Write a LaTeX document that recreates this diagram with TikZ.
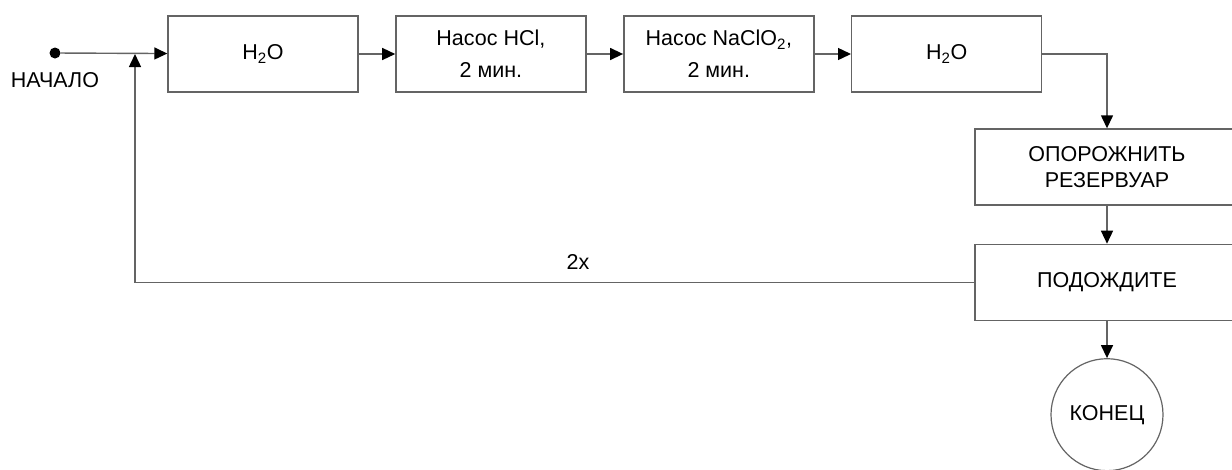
\documentclass[tikz,border=0pt]{standalone}
\usepackage{fontspec}
\setmainfont{Liberation Sans}
\usepackage{tikz}
\usetikzlibrary{positioning}
\usetikzlibrary{arrows.meta}
\definecolor{linegray}{RGB}{100,100,100}

\begin{document}
\begin{tikzpicture}[
x = 1pt, y = -1pt,
node distance = 36.5pt,
every node/.style = {font = \fontsize{21.5}{26}\selectfont},
  stepbox/.style = {draw = linegray, line width = 1.4pt, minimum width = 190pt,
    minimum height = 76pt, align = center, inner sep = 0pt},
  widebox/.style = {stepbox, minimum width = 264pt},
  dot/.style = {circle, fill = black, minimum size = 11pt, inner sep = 0pt},
  endnode/.style = {circle, draw = linegray, line width = 1.2pt, minimum size = 112pt},
  flow/.style = {draw = linegray, line width = 1.4pt, -{Triangle[length = 13pt, width = 12pt, black]}}
]
\clip (0,0) rectangle (1232,469);
\node[dot] (start) at (55,53) {};
\node (startlbl) at (55,80) {НАЧАЛО};
\coordinate (join) at (135,53);

\node[stepbox] (rinse1) at (263,54) {H\textsubscript{2}O};
\node[stepbox, right = of rinse1] (pumphcl) {Насос HCl,\\[6pt] 2 мин.};
\node[stepbox, right = of pumphcl] (pumpclo) {Насос NaClO\textsubscript{2},\\[6pt] 2 мин.};
\node[stepbox, right = of pumpclo] (rinse2) {H\textsubscript{2}O};

\node[widebox] (drain) at (1107,167) {ОПОРОЖНИТЬ\\ РЕЗЕРВУАР};
\node[widebox, below = 38pt of drain] (wait) {ПОДОЖДИТЕ};
\node[endnode, below = 37pt of wait] (finish) {КОНЕЦ};

\node (repeatlbl) at (578,262) {2x};

\draw[flow] (start) -- (rinse1);
\draw[flow] (rinse1) -- (pumphcl);
\draw[flow] (pumphcl) -- (pumpclo);
\draw[flow] (pumpclo) -- (rinse2);
\draw[flow] (rinse2.east) -| (drain.north);
\draw[flow] (drain) -- (wait);
\draw[flow] (wait) -- (finish);
\draw[flow, shorten > = 1pt] (wait.west) -| (join);
\end{tikzpicture}
\end{document}
